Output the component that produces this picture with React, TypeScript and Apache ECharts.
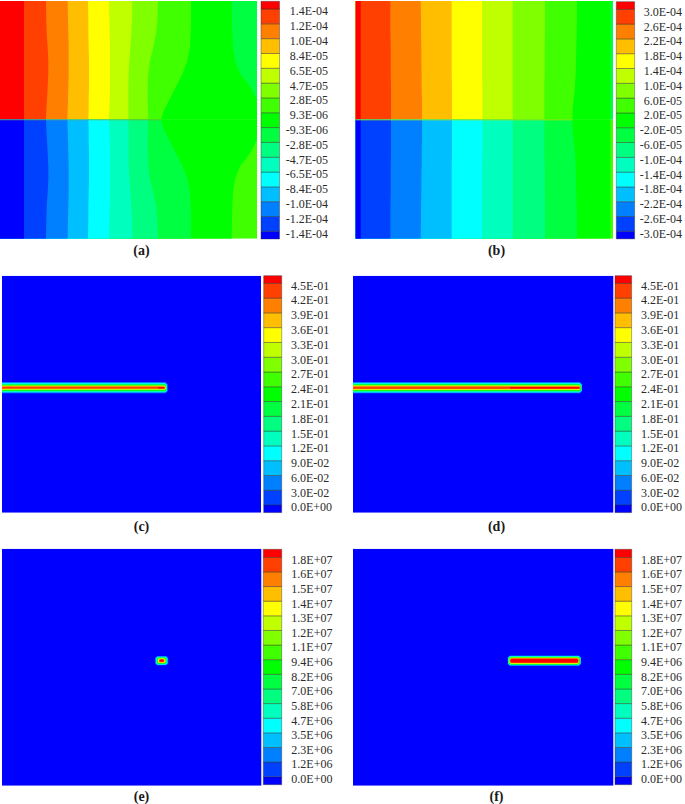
import React, { useEffect, useRef } from "react";
import * as echarts from "echarts";

const BAND_COLORS = ["#0000ff","#0040ff","#0080ff","#00bfff","#00ffff","#00ffbf","#00ff80","#00ff40","#00ff00","#40ff00","#80ff00","#bfff00","#ffff00","#ffbf00","#ff8000","#ff4000","#ff0000"];

const LABELS_A = ["1.4E-04","1.2E-04","1.0E-04","8.4E-05","6.5E-05","4.7E-05","2.8E-05","9.3E-06","-9.3E-06","-2.8E-05","-4.7E-05","-6.5E-05","-8.4E-05","-1.0E-04","-1.2E-04","-1.4E-04"];
const LABELS_B = ["3.0E-04","2.6E-04","2.2E-04","1.8E-04","1.4E-04","1.0E-04","6.0E-05","2.0E-05","-2.0E-05","-6.0E-05","-1.0E-04","-1.4E-04","-1.8E-04","-2.2E-04","-2.6E-04","-3.0E-04"];
const LABELS_CD = ["4.5E-01","4.2E-01","3.9E-01","3.6E-01","3.3E-01","3.0E-01","2.7E-01","2.4E-01","2.1E-01","1.8E-01","1.5E-01","1.2E-01","9.0E-02","6.0E-02","3.0E-02","0.0E+00"];
const LABELS_EF = ["1.8E+07","1.6E+07","1.5E+07","1.4E+07","1.3E+07","1.2E+07","1.1E+07","9.4E+06","8.2E+06","7.0E+06","5.8E+06","4.7E+06","3.5E+06","2.3E+06","1.2E+06","0.0E+00"];

// Displacement panels: distance from the crack plane (100 = far edge, 0 = plane)
const FIELD_Y = [100, 84, 73, 61, 50, 39, 28, 17, 8, 0];
const FIELD_A = [
  [72,72,72,72,72,72,72,72,72,72],
  [138,139,140,143,145,145,143,141,139,138],
  [203,204,205,206,206,206,205,204,203,202],
  [264,265,265,266,267,267,267,266,266,265],
  [327,328,329,330,330,330,330,329,328,327],
  [397,396,394,391,388,386,385,385,385,385],
  [474,472,468,460,450,445,443,443,444,445],
  [573,573,572,570,562,548,528,508,492,483],
  [695,696,697,699,705,720,750,771,771,771],
];
const FIELD_B = [
  [15,15,15,15,15,15,15,15,15,15],
  [104,104,104,105,105,105,106,106,106,106],
  [195,196,196,197,197,198,198,199,199,199],
  [288,288,288,288,288,288,289,289,289,289],
  [379,379,379,379,379,379,380,380,380,380],
  [471,471,471,471,471,471,471,471,471,471],
  [568,568,568,567,567,567,566,566,566,566],
  [664,664,663,662,661,660,658,654,651,650],
  [764,764,764,764,764,764,764,764,764,764],
];
const SEAM_A = 483;
const SEAM_B = 650;

// Nested contour levels (band 1 .. band 16): start, end, half height
const CRACK_C_X0 = [0,0,0,0,0,0,0,0,0,0,0,0,0,0,0,156];
const CRACK_C_X1 = [165.7,165.4,165.1,164.9,164.6,164.4,164.2,164,163.8,163.6,163.4,163.2,163,162.8,162.6,162.2];
const CRACK_C_H = [5.7,5.3,4.9,4.4,4,3.6,3.2,2.8,2.5,2.2,1.9,1.6,1.3,1.1,0.9,0.8];
const CRACK_D_X0 = [0,0,0,0,0,0,0,0,0,0,0,0,0,0,0,157];
const CRACK_D_X1 = [229,228.8,228.6,228.4,228.2,228,227.8,227.6,227.4,227.2,227,226.9,226.8,226.7,226.6,226.5];
const CRACK_D_H = [5.7,5.3,4.9,4.5,4.1,3.7,3.3,3,2.7,2.4,2.1,1.8,1.5,1.2,1,0.8];
const CRACK_E_X0 = [153,153.4,153.8,154.2,154.5,154.8,155.1,155.4,155.7,156,156.3,156.6,156.9,157.2,157.5,157.8];
const CRACK_E_X1 = [166.3,165.9,165.5,165.2,164.9,164.6,164.3,164,163.7,163.4,163.1,162.8,162.5,162.2,161.9,161.5];
const CRACK_E_H = [4.7,4.4,4.1,3.8,3.5,3.2,3,2.8,2.6,2.4,2.2,2,1.8,1.5,1.2,0.9];
const CRACK_F_X0 = [154.7,154.9,155.1,155.3,155.5,155.7,155.9,156.1,156.3,156.5,156.7,156.9,157.1,157.3,157.4,157.5];
const CRACK_F_X1 = [228,227.8,227.6,227.4,227.2,227,226.8,226.6,226.4,226.2,226,225.8,225.6,225.4,225.2,225];
const CRACK_F_H = [5.2,4.9,4.7,4.4,4.2,3.9,3.7,3.5,3.3,3.1,2.9,2.7,2.5,2.3,2.1,1.8];
const CRACK_CENTER = 125;

const FONT = "Liberation Serif";
const TEXT = "#2b2b2b";
const LABEL_SHIFT = 2.4;

type Poly = { pts: number[][]; fill: string };

function fieldPolys(table: number[][], xMax: number): Poly[] {
  const out: Poly[] = [];
  for (const side of [1, -1]) {
    const colorAt = (i: number) => (side > 0 ? BAND_COLORS[16 - i] : BAND_COLORS[i]);
    out.push({ pts: [[0, 0], [xMax, 0], [xMax, side * 100], [0, side * 100]], fill: colorAt(9) });
    for (let i = table.length - 1; i >= 0; i--) {
      const pts: number[][] = [[0, side * 100]];
      FIELD_Y.forEach((y, j) => pts.push([table[i][j], side * y]));
      pts.push([0, 0]);
      out.push({ pts, fill: colorAt(i) });
    }
  }
  return out;
}

function crackPolys(x0: number[], x1: number[], h: number[], xMax: number, yMax: number): Poly[] {
  const out: Poly[] = [{ pts: [[0, 0], [xMax, 0], [xMax, yMax], [0, yMax]], fill: BAND_COLORS[0] }];
  h.forEach((hh, i) => {
    const c = CRACK_CENTER;
    const ch = hh * 0.38;
    const pts: number[][] = [];
    if (x0[i] <= 0) {
      pts.push([0, c - hh], [0, c + hh]);
    } else {
      pts.push([x0[i] + ch, c - hh], [x0[i], c - hh + ch], [x0[i], c + hh - ch], [x0[i] + ch, c + hh]);
    }
    pts.push([x1[i] - ch, c + hh], [x1[i], c + hh - ch], [x1[i], c - hh + ch], [x1[i] - ch, c - hh]);
    out.push({ pts, fill: BAND_COLORS[i + 1] });
  });
  return out;
}

const polyRender = (polys: Poly[]) => (params: any, api: any) => {
  const p = polys[params.dataIndex];
  return {
    type: "polygon",
    shape: { points: p.pts.map((q) => api.coord(q)) },
    style: { fill: p.fill },
  };
};

const seamRender = (color: string) => (_p: any, api: any) => {
  const a = api.coord([0, 0]);
  const b = api.coord([api.value(0), 0]);
  return {
    type: "line",
    shape: { x1: a[0], y1: a[1], x2: b[0], y2: b[1] },
    style: { stroke: color, lineWidth: 1 },
  };
};

const barRender = (endFrac: number) => (params: any, api: any) => {
  const k = params.dataIndex;
  const lo = k === 0 ? -endFrac : k - 1;
  const hi = k === 16 ? 15 + endFrac : k;
  const t = api.coord([0, hi]);
  const b = api.coord([1, lo]);
  return {
    type: "rect",
    shape: { x: t[0], y: t[1] - LABEL_SHIFT, width: b[0] - t[0], height: b[1] - t[1] },
    style: { fill: BAND_COLORS[k], stroke: "rgba(40,40,40,0.55)", lineWidth: 0.7 },
  };
};

const PANELS = [
  { cap: "(a)", capX: 141.5, capY: 250.7, x: 0, y: 1, w: 257, h: 237.7, polys: fieldPolys(FIELD_A, 771), xMax: 771, yMin: -100, yMax: 100, seam: SEAM_A, seamColor: "rgba(150,150,60,0.55)",
    barX: 261, barW: 18.5, barTop: 1.3, barBot: 238.7, edgeT: 9, edgeB: 231.3, labels: LABELS_A, labelX: 328, align: "right" },
  { cap: "(b)", capX: 496.5, capY: 250.7, x: 355.7, y: 1, w: 257.3, h: 237.7, polys: fieldPolys(FIELD_B, 772), xMax: 772, yMin: -100, yMax: 100, seam: SEAM_B, seamColor: "rgba(170,225,20,0.85)",
    barX: 616.3, barW: 19.3, barTop: 1.7, barBot: 238.7, edgeT: 9.3, edgeB: 231.3, labels: LABELS_B, labelX: 683, align: "right" },
  { cap: "(c)", capX: 141.5, capY: 526.5, x: 2, y: 275.7, w: 259, h: 237, polys: crackPolys(CRACK_C_X0, CRACK_C_X1, CRACK_C_H, 259, 237), xMax: 259, yMin: 0, yMax: 237,
    barX: 263.7, barW: 18, barTop: 275.7, barBot: 513, edgeT: 283.3, edgeB: 505, labels: LABELS_CD, labelX: 291, align: "left" },
  { cap: "(d)", capX: 496.5, capY: 526.5, x: 353, y: 275.7, w: 260.3, h: 237, polys: crackPolys(CRACK_D_X0, CRACK_D_X1, CRACK_D_H, 260.3, 237), xMax: 260.3, yMin: 0, yMax: 237,
    barX: 615, barW: 19, barTop: 275.7, barBot: 513, edgeT: 283.3, edgeB: 505, labels: LABELS_CD, labelX: 643.3, align: "left" },
  { cap: "(e)", capX: 141.5, capY: 796, x: 2, y: 548.7, w: 259.3, h: 237, polys: crackPolys(CRACK_E_X0, CRACK_E_X1, CRACK_E_H, 259.3, 237), xMax: 259.3, yMin: 0, yMax: 237,
    barX: 263.3, barW: 18.4, barTop: 549.3, barBot: 784.7, edgeT: 557.3, edgeB: 776.7, labels: LABELS_EF, labelX: 291.3, align: "left" },
  { cap: "(f)", capX: 496.5, capY: 796, x: 353, y: 548.7, w: 260.3, h: 237, polys: crackPolys(CRACK_F_X0, CRACK_F_X1, CRACK_F_H, 260.3, 237), xMax: 260.3, yMin: 0, yMax: 237,
    barX: 615, barW: 18.5, barTop: 549.3, barBot: 784.7, edgeT: 557.3, edgeB: 776.7, labels: LABELS_EF, labelX: 642.7, align: "left" },
];

function buildOption() {
  const grid: any[] = [];
  const xAxis: any[] = [];
  const yAxis: any[] = [];
  const series: any[] = [];
  const graphic: any[] = [];
  PANELS.forEach((p) => {
    const gi = grid.length;
    grid.push({ left: p.x, top: p.y, width: p.w, height: p.h });
    xAxis.push({ gridIndex: gi, type: "value", min: 0, max: p.xMax, show: false });
    yAxis.push({ gridIndex: gi, type: "value", min: p.yMin, max: p.yMax, show: false });
    series.push({
      type: "custom", xAxisIndex: gi, yAxisIndex: gi, coordinateSystem: "cartesian2d",
      renderItem: polyRender(p.polys), data: p.polys.map((_, i) => [i, 0]), silent: true, clip: true,
    });
    if (p.seam) {
      series.push({
        type: "custom", xAxisIndex: gi, yAxisIndex: gi, coordinateSystem: "cartesian2d",
        renderItem: seamRender(p.seamColor as string), data: [[p.seam, 0]], silent: true, z: 3,
      });
    }
    const bi = grid.length;
    const step = (p.edgeB - p.edgeT) / 15;
    grid.push({ left: p.barX, top: p.edgeT + LABEL_SHIFT, width: p.barW, height: p.edgeB - p.edgeT });
    xAxis.push({ gridIndex: bi, type: "value", min: 0, max: 1, show: false });
    yAxis.push({
      gridIndex: bi, type: "value", position: "right", min: 0, max: 15, interval: 1,
      axisLine: { show: false }, axisTick: { show: false }, splitLine: { show: false },
      axisLabel: {
        show: true, margin: p.labelX - (p.barX + p.barW), align: p.align,
        fontFamily: FONT, fontSize: 12, color: TEXT,
        formatter: (v: number) => p.labels[15 - v],
      },
    });
    const endFrac = (p.edgeT - p.barTop) / step;
    series.push({
      type: "custom", xAxisIndex: bi, yAxisIndex: bi, coordinateSystem: "cartesian2d",
      renderItem: barRender(endFrac), data: BAND_COLORS.map((_, i) => [0, i]), silent: true, clip: false,
    });
    graphic.push({
      type: "text", x: p.capX, y: p.capY,
      style: { text: p.cap, fill: "#1a1a1a", font: `bold 14px "${FONT}"`, textAlign: "center", textVerticalAlign: "middle" },
    });
  });
  return { animation: false, backgroundColor: "#ffffff", grid, xAxis, yAxis, series, graphic, tooltip: { show: false } };
}

export default function App() {
  const ref = useRef<HTMLDivElement>(null);
  useEffect(() => {
    const chart = echarts.init(ref.current!, undefined, { renderer: "svg" });
    chart.setOption(buildOption() as any);
    return () => chart.dispose();
  }, []);
  return <div ref={ref} style={{ position: "absolute", left: 0, top: 0, width: 685, height: 804 }} />;
}
